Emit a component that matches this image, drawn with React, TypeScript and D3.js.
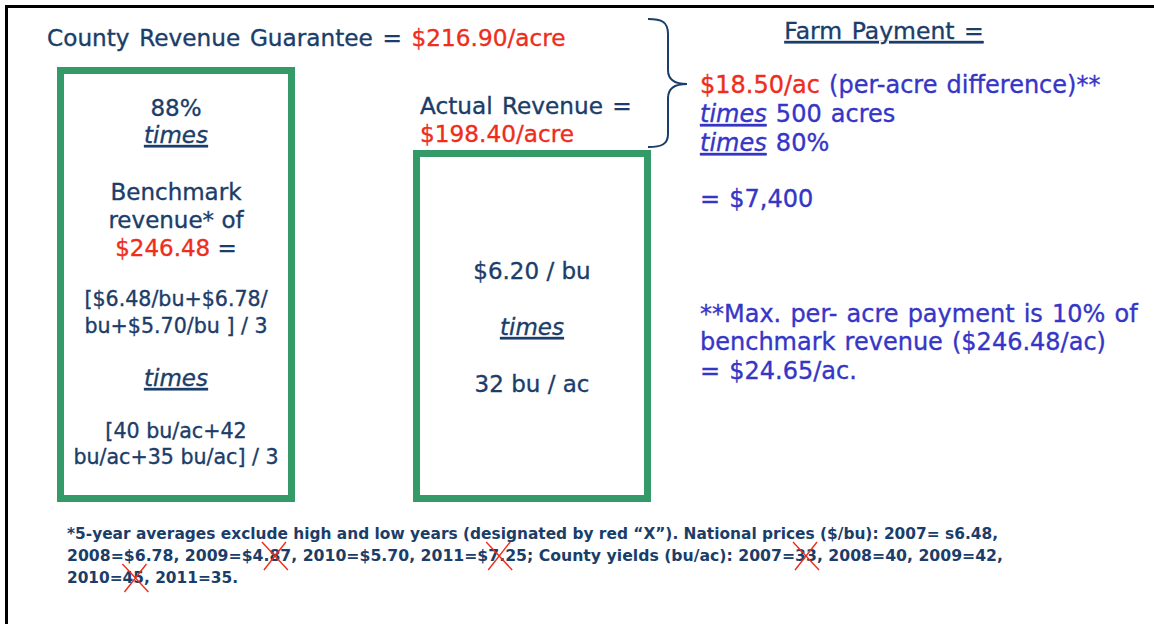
import React, { useEffect, useRef } from "react";
import * as d3 from "d3";

// ---------- content (text only) ----------
type Role = "txt" | "val" | "op";
type Seg = { t: string; r?: Role };

const headline: Seg[] = [{ t: "County Revenue Guarantee = " }, { t: "$216.90/acre", r: "val" }];
const farmTitle = "Farm Payment =";

const guaranteeLines: Seg[][] = [
  [{ t: "88%" }],
  [{ t: "times", r: "op" }],
  [{ t: "Benchmark" }],
  [{ t: "revenue* of" }],
  [{ t: "$246.48", r: "val" }, { t: " =" }],
  [{ t: "[$6.48/bu+$6.78/" }],
  [{ t: "bu+$5.70/bu ] / 3" }],
  [{ t: "times", r: "op" }],
  [{ t: "[40 bu/ac+42" }],
  [{ t: "bu/ac+35 bu/ac] / 3" }],
];

const actualHead: Seg[][] = [[{ t: "Actual Revenue =" }], [{ t: "$198.40/acre", r: "val" }]];
const actualLines: Seg[][] = [[{ t: "$6.20 / bu" }], [{ t: "times", r: "op" }], [{ t: "32 bu / ac" }]];

const paymentLines: Seg[][] = [
  [{ t: "$18.50/ac", r: "val" }, { t: " (per-acre difference)**" }],
  [{ t: "times", r: "op" }, { t: " 500 acres" }],
  [{ t: "times", r: "op" }, { t: " 80%" }],
  [{ t: "= $7,400" }],
];
const maxLines: string[] = [
  "**Max. per- acre payment is 10% of",
  "benchmark revenue ($246.48/ac)",
  "= $24.65/ac.",
];

const footLines: string[] = [
  "*5-year averages exclude high and low years (designated by red \u201CX\u201D).  National prices ($/bu): 2007= s6.48,",
  "2008=$6.78, 2009=$4.87, 2010=$5.70, 2011=$7.25; County yields (bu/ac): 2007=33, 2008=40, 2009=42,",
  "2010=45, 2011=35.",
];
// excluded (crossed) values: footnote line, text to find, character offset within it to centre the X on
const crossed: { line: number; find: string; at: number }[] = [
  { line: 1, find: "$4.87", at: 3.5 },
  { line: 1, find: "$7.25", at: 2 },
  { line: 1, find: "2007=33", at: 6 },
  { line: 2, find: "2010=45", at: 6.2 },
];

// ---------- styles & layout ----------
const NAVY = "#1b3d69";
const RED = "#ee2d1c";
const BLUE = "#3636c6";
const GREEN = "#349a68";
const FONT = "'DejaVu Sans', Verdana, sans-serif";

const W = 1154;
const H = 624;

function Segs({ segs, base }: { segs: Seg[]; base: string }) {
  return (
    <>
      {segs.map((s, i) => {
        const c = s.r === "val" ? RED : base;
        return (
          <tspan
            key={i}
            fill={c}
            stroke={c}
            fontStyle={s.r === "op" ? "italic" : "normal"}
            style={s.r === "op" ? { textDecoration: "underline" } : undefined}
          >
            {s.t}
          </tspan>
        );
      })}
    </>
  );
}

export default function App() {
  const crossRef = useRef<SVGGElement>(null);
  const footRefs = useRef<(SVGTextElement | null)[]>([]);

  useEffect(() => {
    const g = d3.select(crossRef.current);
    g.selectAll("*").remove();
    crossed.forEach((c) => {
      const el = footRefs.current[c.line];
      if (!el) return;
      const idx = footLines[c.line].indexOf(c.find);
      if (idx < 0) return;
      const ci = idx + Math.floor(c.at);
      const frac = c.at - Math.floor(c.at);
      const s = el.getStartPositionOfChar(ci);
      const e = el.getEndPositionOfChar(ci);
      const cx = s.x + (e.x - s.x) * frac;
      const cy = s.y - 5;
      const hw = 13,
        hh = 14;
      g.append("line")
        .attr("x1", cx - hw).attr("y1", cy - hh).attr("x2", cx + hw).attr("y2", cy + hh)
        .attr("stroke", RED).attr("stroke-width", 1.4);
      g.append("line")
        .attr("x1", cx + hw - 2).attr("y1", cy - hh).attr("x2", cx - hw + 2).attr("y2", cy + hh)
        .attr("stroke", RED).attr("stroke-width", 1.4);
    });
  }, []);

  // brace path
  const brace = d3.path();
  brace.moveTo(648, 19);
  brace.bezierCurveTo(662, 19, 668, 22, 668, 34);
  brace.lineTo(668, 70);
  brace.bezierCurveTo(668, 80, 676, 84, 687, 84);
  brace.bezierCurveTo(676, 84, 668, 88, 668, 98);
  brace.lineTo(668, 134);
  brace.bezierCurveTo(668, 144, 662, 147, 648, 147);

  const gLeft = { x: 60.5, y: 70.5, w: 231, h: 428 };
  const gRight = { x: 416.5, y: 153.5, w: 231, h: 345 };
  const guaranteeY = [116, 143, 200, 228, 256, 306, 333, 386, 438, 464];
  const guaranteeSize = [23, 23, 23, 23, 23, 20.6, 20.6, 23, 20.6, 20.6];
  const actualY = [279, 335, 392];
  const paymentY = [93, 122, 151, 207];
  const maxY = [322, 350, 379];
  const footY = [539, 561, 583];
  const footW = [931, 936, 171];
  const SW = 0.35;

  return (
    <svg
      width={W}
      height={H}
      style={{ position: "absolute", left: 0, top: 0, background: "#fff" }}
      fontFamily={FONT}
    >
      <rect width={W} height={H} fill="#fff" />
      {/* frame */}
      <line x1={6} y1={6.5} x2={W} y2={6.5} stroke="#000" strokeWidth={3} />
      <line x1={6.5} y1={5} x2={6.5} y2={H} stroke="#000" strokeWidth={3} />

      <g strokeWidth={SW}>
        {/* headline */}
        <text x={47} y={46} fontSize={23.2} fill={NAVY} wordSpacing={2.3}>
          <Segs segs={headline} base={NAVY} />
        </text>

        {/* farm payment title */}
        <text
          x={884}
          y={39}
          fontSize={23.5}
          fill={NAVY}
          stroke={NAVY}
          wordSpacing={2}
          textAnchor="middle"
          style={{ textDecoration: "underline" }}
        >
          {farmTitle}
        </text>

        {guaranteeLines.map((segs, i) => (
          <text key={i} x={gLeft.x + gLeft.w / 2} y={guaranteeY[i]} fontSize={guaranteeSize[i]} textAnchor="middle" fill={NAVY}>
            <Segs segs={segs} base={NAVY} />
          </text>
        ))}

        {actualHead.map((segs, i) => (
          <text key={i} x={420} y={114 + i * 28} fontSize={23.2} fill={NAVY} wordSpacing={2}>
            <Segs segs={segs} base={NAVY} />
          </text>
        ))}
        {actualLines.map((segs, i) => (
          <text key={i} x={gRight.x + gRight.w / 2} y={actualY[i]} fontSize={23} textAnchor="middle" fill={NAVY}>
            <Segs segs={segs} base={NAVY} />
          </text>
        ))}

        {paymentLines.map((segs, i) => (
          <text key={i} x={700} y={paymentY[i]} fontSize={24} fill={BLUE} wordSpacing={1.5}>
            <Segs segs={segs} base={BLUE} />
          </text>
        ))}
        {maxLines.map((t, i) => (
          <text key={i} x={700} y={maxY[i]} fontSize={24} fill={BLUE} stroke={BLUE} wordSpacing={1.5}>
            {t}
          </text>
        ))}
      </g>

      {/* boxes */}
      <rect x={gLeft.x} y={gLeft.y} width={gLeft.w} height={gLeft.h} fill="none" stroke={GREEN} strokeWidth={7} />
      <rect x={gRight.x} y={gRight.y} width={gRight.w} height={gRight.h} fill="none" stroke={GREEN} strokeWidth={7} />

      {/* brace */}
      <path d={brace.toString()} fill="none" stroke={NAVY} strokeWidth={2} />

      {/* footnote */}
      {footLines.map((t, i) => (
        <text
          key={i}
          ref={(el) => {
            footRefs.current[i] = el;
          }}
          x={67}
          y={footY[i]}
          fontSize={16}
          fontWeight="bold"
          fill={NAVY}
          textLength={footW[i]}
          lengthAdjust="spacingAndGlyphs"
        >
          {t}
        </text>
      ))}
      <g ref={crossRef} />
    </svg>
  );
}
